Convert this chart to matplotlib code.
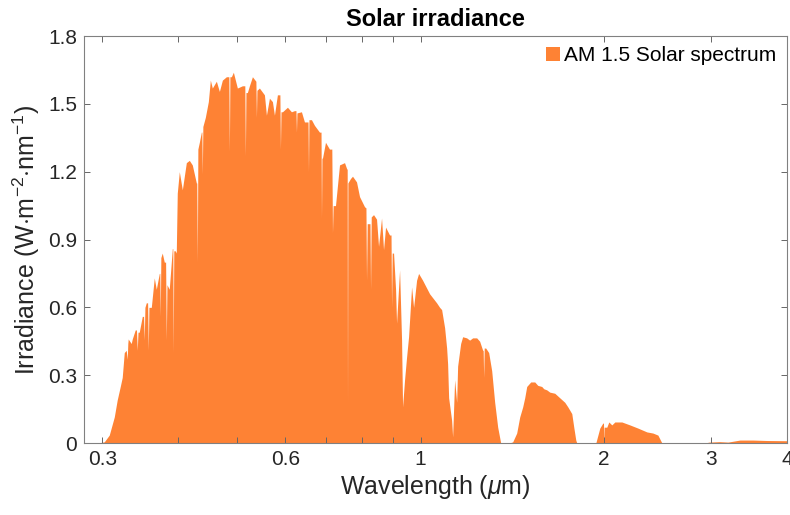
import numpy as np
import matplotlib.pyplot as plt

plt.rcParams['font.family'] = ['Liberation Sans', 'DejaVu Sans']
plt.rcParams['mathtext.fontset'] = 'custom'
plt.rcParams['mathtext.rm'] = 'Liberation Sans'
plt.rcParams['mathtext.it'] = 'Liberation Sans:italic'

# AM 1.5 spectrum, wavelength in nm and irradiance in W m^-2 nm^-1
wavelength_nm = [
    280.0, 295.0, 302.3, 308.1, 314.0, 317.5, 321.2, 323.6, 326.1, 328.5,
    329.8, 330.5, 331.0, 334.8, 336.1, 339.9, 341.5, 342.5, 343.5, 345.1,
    349.1, 350.8, 351.7, 352.6, 354.4, 356.2, 357.1, 358.0, 361.2, 365.3,
    368.1, 372.3, 373.0, 373.7, 374.5, 376.5, 379.4, 381.3, 382.3, 383.3,
    386.6, 391.1, 391.8, 392.5, 393.3, 395.5, 397.0, 398.5, 401.6, 406.2,
    412.4, 417.1, 421.8, 428.3, 429.0, 429.9, 430.8, 433.2, 436.5, 437.3,
    438.1, 439.0, 443.1, 448.2, 451.6, 455.0, 462.0, 467.3, 472.6, 479.8,
    484.3, 485.3, 486.3, 489.0, 492.7, 500.2, 509.8, 514.5, 515.6, 516.7,
    519.5, 523.5, 529.5, 536.5, 537.6, 538.7, 543.7, 554.1, 558.3, 564.7,
    571.1, 575.5, 582.0, 587.5, 588.7, 590.0, 593.2, 604.5, 613.7, 620.8,
    624.3, 625.5, 626.7, 637.4, 644.7, 653.4, 654.6, 655.8, 662.0, 669.6,
    682.4, 686.4, 687.6, 688.8, 690.2, 698.1, 708.7, 715.0, 716.8, 718.6,
    725.0, 736.1, 750.2, 755.9, 757.8, 758.7, 759.8, 767.4, 773.2, 785.0,
    794.0, 809.2, 813.5, 815.3, 817.5, 821.5, 826.0, 827.8, 830.0, 837.2,
    846.8, 853.2, 863.0, 869.5, 876.2, 889.5, 894.5, 896.3, 898.5, 903.1,
    910.0, 913.4, 923.9, 930.9, 934.4, 941.5, 948.7, 955.9, 966.8, 974.2,
    985.3, 992.8, 1007.9, 1035.0, 1062.8, 1075.0, 1083.2, 1095.5, 1103.9, 1108.0,
    1112.3, 1125.0, 1129.2, 1137.8, 1146.5, 1150.8, 1164.0, 1172.8, 1190.7, 1204.3,
    1218.1, 1236.7, 1250.8, 1265.1, 1267.5, 1269.9, 1272.5, 1279.6, 1294.2, 1309.0,
    1323.9, 1339.1, 1354.4, 1400.0, 1417.3, 1438.9, 1455.4, 1472.0, 1483.2, 1494.5,
    1517.3, 1540.5, 1558.1, 1581.8, 1593.9, 1612.1, 1630.5, 1661.7, 1693.4, 1725.8,
    1745.5, 1772.2, 1785.6, 1799.2, 1806.0, 1900.0, 1940.8, 1970.4, 1992.9, 1998.0,
    2000.5, 2003.0, 2023.3, 2038.7, 2062.0, 2085.6, 2141.6, 2207.5, 2275.4, 2354.2,
    2408.4, 2454.4, 2491.9, 2932.6, 2980.0, 3100.0, 3200.0, 3348.2, 3517.2, 3708.7,
    4000.0,
]
irradiance = [
    0.0, 0.0, 0.005, 0.035, 0.115, 0.19, 0.25, 0.29, 0.40, 0.41,
    0.37, 0.44, 0.46, 0.44, 0.46, 0.50, 0.50, 0.41, 0.49, 0.49,
    0.56, 0.56, 0.455, 0.60, 0.62, 0.62, 0.41, 0.60, 0.60, 0.73,
    0.68, 0.75, 0.75, 0.56, 0.82, 0.84, 0.80, 0.80, 0.455, 0.70,
    0.68, 0.86, 0.86, 0.40, 0.85, 0.85, 0.84, 1.105, 1.20, 1.12,
    1.24, 1.25, 1.23, 1.15, 1.15, 0.80, 1.30, 1.33, 1.375, 1.375,
    1.19, 1.40, 1.44, 1.51, 1.605, 1.57, 1.60, 1.555, 1.605, 1.62,
    1.62, 1.29, 1.62, 1.62, 1.64, 1.57, 1.58, 1.58, 1.27, 1.55,
    1.55, 1.58, 1.62, 1.60, 1.44, 1.56, 1.57, 1.54, 1.45, 1.525,
    1.51, 1.45, 1.54, 1.54, 1.30, 1.465, 1.465, 1.485, 1.465, 1.47,
    1.47, 1.375, 1.46, 1.465, 1.42, 1.42, 1.20, 1.43, 1.43, 1.405,
    1.375, 1.375, 0.995, 1.26, 1.26, 1.33, 1.30, 1.30, 0.93, 1.05,
    1.05, 1.23, 1.24, 1.215, 1.21, 0.17, 1.15, 1.17, 1.18, 1.155,
    1.09, 1.045, 1.04, 0.72, 0.97, 0.97, 0.97, 0.68, 1.00, 1.01,
    0.99, 0.87, 0.995, 0.855, 0.955, 0.92, 0.92, 0.60, 0.84, 0.84,
    0.68, 0.53, 0.765, 0.455, 0.16, 0.28, 0.38, 0.47, 0.69, 0.60,
    0.72, 0.75, 0.72, 0.66, 0.62, 0.60, 0.59, 0.51, 0.42, 0.35,
    0.20, 0.10, 0.027, 0.28, 0.18, 0.34, 0.44, 0.47, 0.465, 0.455,
    0.465, 0.465, 0.45, 0.41, 0.41, 0.29, 0.42, 0.42, 0.40, 0.32,
    0.18, 0.07, 0.0, 0.0, 0.005, 0.044, 0.115, 0.16, 0.20, 0.25,
    0.27, 0.27, 0.255, 0.25, 0.24, 0.235, 0.225, 0.22, 0.20, 0.18,
    0.16, 0.13, 0.07, 0.013, 0.0, 0.0, 0.0, 0.066, 0.088, 0.088,
    0.0, 0.07, 0.07, 0.093, 0.08, 0.093, 0.093, 0.08, 0.066, 0.049,
    0.044, 0.035, 0.0, 0.0, 0.004, 0.006, 0.004, 0.013, 0.013, 0.011,
    0.010,
]

x_ticks = [0.3, 0.4, 0.5, 0.6, 0.7, 0.8, 0.9, 1, 2, 3, 4]
x_ticklabels = ['0.3', '', '', '0.6', '', '', '', '1', '2', '3', '4']
y_ticks = [0, 0.3, 0.6, 0.9, 1.2, 1.5, 1.8]
y_ticklabels = ['0', '0.3', '0.6', '0.9', '1.2', '1.5', '1.8']

lam = np.array(wavelength_nm) / 1000.0
irr = np.array(irradiance)

fig = plt.figure(figsize=(7.9, 5.15), dpi=100)
ax = fig.add_axes([0.1063, 0.1398, 0.8899, 0.7902])

ax.fill_between(lam, irr, 0, color='#FE8234', linewidth=0,
                label='AM 1.5 Solar spectrum')

ax.set_xscale('log')
ax.set_xlim(0.28, 4)
ax.set_ylim(0, 1.8)
ax.set_xticks(x_ticks)
ax.set_xticklabels(x_ticklabels)
ax.xaxis.set_minor_locator(plt.NullLocator())
ax.set_yticks(y_ticks)
ax.set_yticklabels(y_ticklabels)

ax.tick_params(which='both', direction='in', top=True, right=True,
               length=4, width=0.7, color='#666666',
               labelsize=15, labelcolor='#262626', pad=5)
for sp in ax.spines.values():
    sp.set_color('#808080')
    sp.set_linewidth(0.8)

ax.set_xlabel(r'Wavelength ($\mu$m)', fontsize=18, color='#262626', labelpad=3)
ax.set_ylabel(r'Irradiance (W$\cdot$m$^{-2}$$\cdot$nm$^{-1}$)', fontsize=18,
              color='#262626', labelpad=4)
ax.set_title('Solar irradiance', fontsize=17, fontweight='bold', pad=7)

ax.legend(loc='upper right', frameon=False, fontsize=15,
          handlelength=0.7, handleheight=0.7, handletextpad=0.2,
          borderaxespad=0.2, borderpad=0.3)

fig.savefig('out.png', dpi=100)
